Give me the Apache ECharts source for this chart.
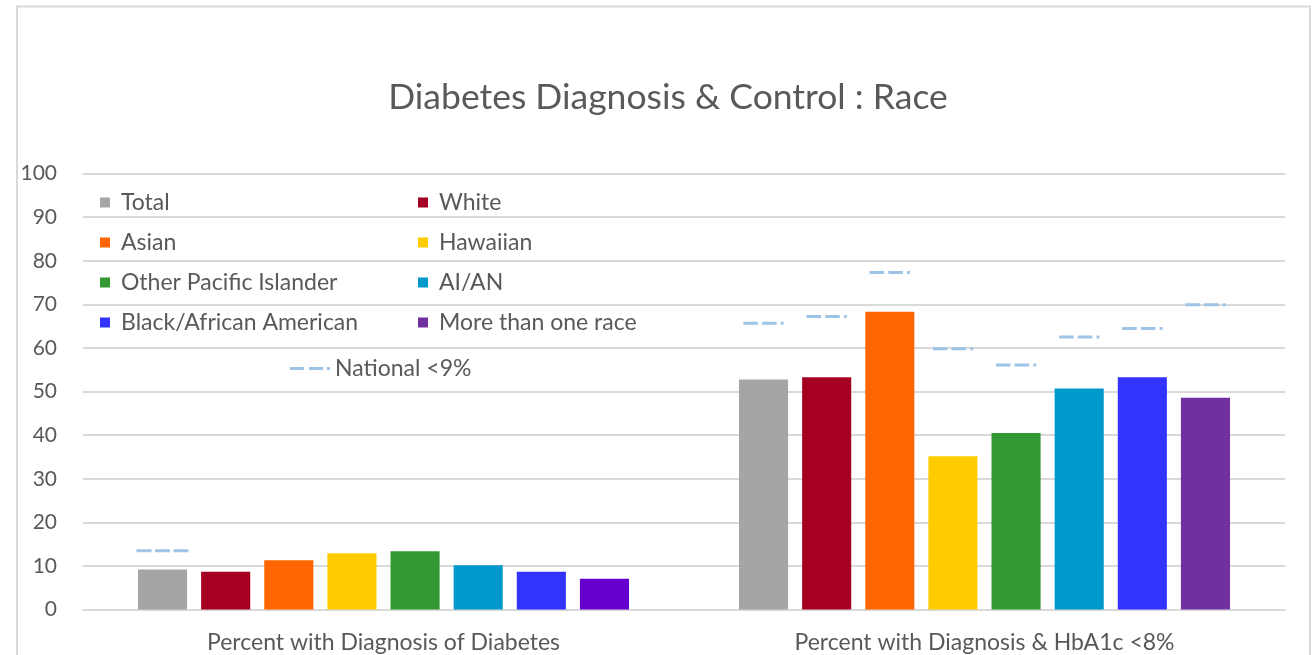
<!DOCTYPE html>
<html>
<head>
<meta charset="utf-8">
<script src="https://cdn.jsdelivr.net/npm/echarts@6/dist/echarts.min.js"></script>
<style>
  html, body { margin: 0; padding: 0; background: #fff; }
  #chart { width: 1312px; height: 655px; }
</style>
</head>
<body>
<div id="chart"></div>
<script>
// Measures shown along the category axis
const categories = ['Percent with Diagnosis of Diabetes', 'Percent with Diagnosis & HbA1c <8%'];

// Race groups, in bar order
const races = ['Total', 'White', 'Asian', 'Hawaiian', 'Other Pacific Islander', 'AI/AN', 'Black/African American', 'More than one race'];

// Percent values per race: [diagnosis, diagnosis & HbA1c <8%]
const totalVals    = [9.2, 52.8];
const whiteVals    = [8.7, 53.3];
const asianVals    = [11.3, 68.3];
const hawaiianVals = [12.9, 35.2];
const opiVals      = [13.4, 40.5];
const aianVals     = [10.2, 50.7];
const blackVals    = [8.7, 53.3];
const multiVals    = [7.1, 48.6];

// National <9% reference level per race: [diagnosis, diagnosis & HbA1c <8%]
const nationalTotal    = [13.5, 65.7];
const nationalWhite    = [null, 67.2];
const nationalAsian    = [null, 77.3];
const nationalHawaiian = [null, 59.8];
const nationalOpi      = [null, 56.1];
const nationalAian     = [null, 62.5];
const nationalBlack    = [null, 64.5];
const nationalMulti    = [null, 69.9];

// Value axis ticks
const yTicks = [0, 10, 20, 30, 40, 50, 60, 70, 80, 90, 100];

const raceValues = [totalVals, whiteVals, asianVals, hawaiianVals, opiVals, aianVals, blackVals, multiVals];
const nationalValues = [nationalTotal, nationalWhite, nationalAsian, nationalHawaiian, nationalOpi, nationalAian, nationalBlack, nationalMulti];
const raceColors = ['#A5A5A5', '#A50021', '#FF6600', '#FFCC00', '#339933', '#0099CC', '#3333FF', '#7030A0'];
const firstGroupMultiColor = '#6600CC';

const CAT_GAP = 0.183;
const BAR_GAP = 0.286;
const FONT = 'Lato, "Open Sans", sans-serif';
const TEXT = '#595959';

const barSeries = races.map((name, i) => ({
  name: name,
  type: 'bar',
  barGap: (BAR_GAP * 100) + '%',
  barCategoryGap: (CAT_GAP * 100) + '%',
  itemStyle: { color: raceColors[i] },
  data: raceValues[i].map((v, c) =>
    (i === 7 && c === 0) ? { value: v, itemStyle: { color: firstGroupMultiColor } } : v),
  z: 2
}));

// One dashed marker per race bar, placed over that bar
const nationalData = [];
nationalValues.forEach((vals, r) => {
  vals.forEach((v, c) => { if (v != null) nationalData.push([c, r, v]); });
});

const nationalSeries = {
  name: 'National <9%',
  type: 'custom',
  encode: { x: 0, y: 2 },
  itemStyle: { color: '#9DC3E6' },
  z: 5,
  data: nationalData,
  renderItem: function (params, api) {
    const c = api.value(0), r = api.value(1), v = api.value(2);
    const pt = api.coord([c, v]);
    const band = api.size([1, 0])[0];
    const used = band * (1 - CAT_GAP);
    const n = races.length;
    const bw = used / (n + (n - 1) * BAR_GAP);
    const cx = pt[0] - used / 2 + bw / 2 + r * bw * (1 + BAR_GAP);
    const wide = c === 0;
    const len = wide ? bw * 1.06 : bw * 0.82;
    return {
      type: 'line',
      shape: { x1: cx - len / 2, y1: pt[1], x2: cx + len / 2, y2: pt[1] },
      style: { stroke: '#9DC3E6', lineWidth: 3, lineDash: wide ? [15, 3.5] : [14.5, 4.2] }
    };
  }
};

const legendText = { color: TEXT, fontFamily: FONT, fontSize: 23, lineHeight: 22, padding: [0, 0, 0, 6] };
const dashIcon = 'path://M0,0h14v3h-14z M19,0h14v3h-14z M37,0h3v3h-3z';

const option = {
  animation: false,
  backgroundColor: '#fff',
  title: {
    text: 'Diabetes Diagnosis & Control : Race',
    left: 668,
    textAlign: 'center',
    top: 80,
    padding: 0,
    textStyle: { color: TEXT, fontFamily: FONT, fontWeight: 'normal', fontSize: 35.5 }
  },
  legend: [
    {
      orient: 'vertical', left: 100, top: 191, padding: 0, itemGap: 17, itemWidth: 10, itemHeight: 10,
      icon: 'rect', textStyle: legendText,
      data: ['Total', 'Asian', 'Other Pacific Islander', 'Black/African American']
    },
    {
      orient: 'vertical', left: 418, top: 191, padding: 0, itemGap: 17, itemWidth: 10, itemHeight: 10,
      icon: 'rect', textStyle: legendText,
      data: ['White', 'Hawaiian', 'AI/AN', 'More than one race']
    },
    {
      orient: 'vertical', left: 290, top: 357, padding: 0, itemWidth: 40, itemHeight: 3,
      textStyle: { color: TEXT, fontFamily: FONT, fontSize: 23, lineHeight: 22 },
      data: [{ name: 'National <9%', icon: dashIcon, itemStyle: { color: '#9DC3E6' } }]
    }
  ],
  grid: { left: 83, right: 27, top: 173.6, bottom: 45.4, containLabel: false },
  xAxis: {
    type: 'category',
    data: categories,
    axisLine: { show: true, lineStyle: { color: '#D9D9D9', width: 2 } },
    axisTick: { show: false },
    axisLabel: { color: TEXT, fontFamily: FONT, fontSize: 23, margin: 21 }
  },
  yAxis: {
    type: 'value',
    min: yTicks[0],
    max: yTicks[yTicks.length - 1],
    interval: yTicks[1] - yTicks[0],
    axisLine: { show: false },
    axisTick: { show: false },
    splitLine: { lineStyle: { color: '#D9D9D9', width: 2 } },
    axisLabel: { color: TEXT, fontFamily: FONT, fontSize: 21, margin: 26 }
  },
  graphic: [
    {
      type: 'rect',
      shape: { x: 17, y: 6.5, width: 1293, height: 700 },
      style: { fill: 'none', stroke: '#D9D9D9', lineWidth: 2 },
      silent: true, z: -1
    }
  ],
  series: barSeries.concat([nationalSeries])
};

const chart = echarts.init(document.getElementById('chart'), null, { renderer: 'canvas' });
chart.setOption(option);
</script>
</body>
</html>
